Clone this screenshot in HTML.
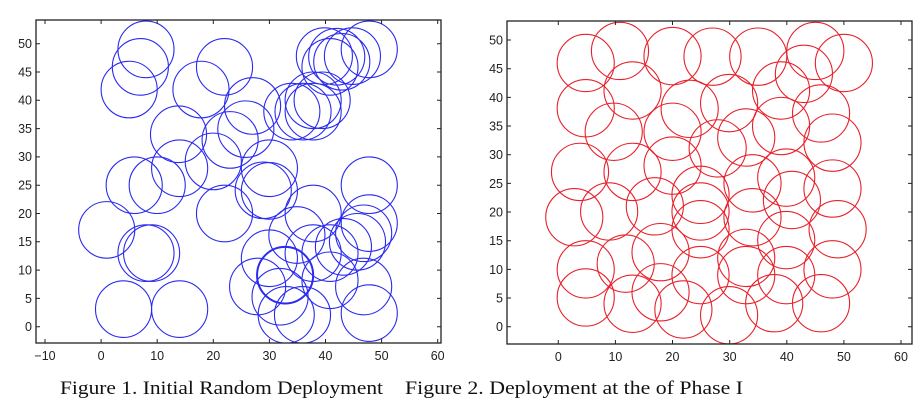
<!DOCTYPE html>
<html><head><style>
html,body{margin:0;padding:0;background:#fff;}
svg{display:block;}
.t{font-family:"Liberation Sans",sans-serif;font-size:12.5px;fill:#222;}
.cap{font-family:"Liberation Serif",serif;font-size:19px;fill:#111;}
.b circle{fill:none;stroke:#2a2af0;stroke-width:1.1;vector-effect:non-scaling-stroke;}
.r circle{fill:none;stroke:#e8202a;stroke-width:1.1;vector-effect:non-scaling-stroke;}
</style></head><body>
<svg width="923" height="416" viewBox="0 0 923 416" xmlns="http://www.w3.org/2000/svg">
<defs>
<clipPath id="c1"><rect x="36" y="20" width="405" height="323"/></clipPath>
<clipPath id="c2"><rect x="507" y="21" width="405" height="323"/></clipPath>
</defs>
<g clip-path="url(#c1)">
<g class="b" transform="translate(101.1,326.7) scale(5.61,-5.66)">
<circle cx="8" cy="49" r="5"/><circle cx="7" cy="45.9" r="5"/><circle cx="5" cy="41.9" r="5"/>
<circle cx="22" cy="45.9" r="5"/><circle cx="17.8" cy="41.9" r="5"/><circle cx="27" cy="39" r="5"/>
<circle cx="13.8" cy="34" r="5"/><circle cx="14" cy="28" r="5"/><circle cx="20" cy="29.2" r="5"/>
<circle cx="23" cy="33" r="5"/><circle cx="25.8" cy="34.9" r="5"/><circle cx="5.9" cy="25" r="5"/>
<circle cx="10" cy="25" r="5"/><circle cx="30" cy="28" r="5"/><circle cx="28.9" cy="24.1" r="5"/>
<circle cx="30" cy="24" r="5"/><circle cx="1" cy="17.1" r="5"/><circle cx="8" cy="13" r="5"/>
<circle cx="9" cy="13" r="5"/><circle cx="22" cy="20" r="5"/><circle cx="4" cy="3.1" r="5"/>
<circle cx="14" cy="3.1" r="5"/>
<circle cx="39.8" cy="47.8" r="5"/><circle cx="40.8" cy="45.9" r="5"/><circle cx="42.9" cy="46.8" r="5"/>
<circle cx="44.8" cy="47.8" r="5"/><circle cx="47.8" cy="49" r="5"/><circle cx="42" cy="47.7" r="5"/>
<circle cx="34" cy="38" r="5"/><circle cx="37.8" cy="40" r="5"/><circle cx="39.4" cy="40" r="5"/>
<circle cx="36" cy="38" r="5"/><circle cx="37.8" cy="38" r="5"/>
<circle cx="37.8" cy="20" r="5"/><circle cx="47.8" cy="25" r="5"/><circle cx="47.8" cy="18.3" r="5"/>
<circle cx="46.8" cy="16.5" r="5"/><circle cx="45.7" cy="15" r="5"/>
<circle cx="34.9" cy="16.2" r="5"/><circle cx="30" cy="12.1" r="5"/>
<circle cx="32.8" cy="9.1" r="5" style="stroke-width:2"/><circle cx="27.9" cy="7.1" r="5"/>
<circle cx="31.9" cy="5.3" r="5"/><circle cx="33" cy="2.1" r="5"/><circle cx="35.9" cy="2.1" r="5"/>
<circle cx="40.8" cy="8.2" r="5"/><circle cx="46.8" cy="7.1" r="5"/><circle cx="47.8" cy="2.4" r="5"/>
<circle cx="37.8" cy="13" r="5"/><circle cx="40.8" cy="13" r="5"/><circle cx="43.2" cy="14.1" r="5"/>
</g></g>
<g clip-path="url(#c2)">
<g class="r" transform="translate(558.3,326.7) scale(5.712,-5.733)">
<circle cx="4.8" cy="46" r="5"/><circle cx="10.8" cy="48.1" r="5"/><circle cx="20" cy="47.2" r="5"/>
<circle cx="27" cy="47.1" r="5"/><circle cx="35" cy="47.1" r="5"/><circle cx="45" cy="48.1" r="5"/>
<circle cx="50" cy="46" r="5"/><circle cx="13" cy="41.2" r="5"/><circle cx="39" cy="41.2" r="5"/>
<circle cx="43" cy="44.1" r="5"/><circle cx="4.8" cy="38.1" r="5"/><circle cx="23" cy="38" r="5"/>
<circle cx="20" cy="34" r="5"/><circle cx="29.9" cy="39" r="5"/><circle cx="39" cy="35" r="5"/>
<circle cx="46" cy="37.2" r="5"/><circle cx="9.7" cy="34" r="5"/><circle cx="27.9" cy="31.1" r="5"/>
<circle cx="32.9" cy="33" r="5"/><circle cx="48" cy="32.1" r="5"/><circle cx="3.8" cy="27" r="5"/>
<circle cx="13" cy="27" r="5"/><circle cx="20" cy="28.1" r="5"/><circle cx="39.9" cy="26" r="5"/>
<circle cx="34" cy="25" r="5"/><circle cx="48" cy="24.1" r="5"/><circle cx="24.9" cy="23" r="5"/>
<circle cx="2.8" cy="19.1" r="5"/><circle cx="8.9" cy="20.1" r="5"/><circle cx="16.9" cy="21" r="5"/>
<circle cx="24.9" cy="20.1" r="5"/><circle cx="34" cy="19.1" r="5"/><circle cx="40.9" cy="22.1" r="5"/>
<circle cx="48.9" cy="17" r="5"/><circle cx="17.9" cy="13" r="5"/><circle cx="24.9" cy="17" r="5"/>
<circle cx="39.9" cy="15.1" r="5"/><circle cx="32.9" cy="12" r="5"/><circle cx="4.8" cy="10" r="5"/>
<circle cx="11.8" cy="11" r="5"/><circle cx="48" cy="10" r="5"/><circle cx="32.9" cy="9" r="5"/>
<circle cx="39.9" cy="9" r="5"/><circle cx="24.9" cy="9" r="5"/><circle cx="4.8" cy="5.1" r="5"/>
<circle cx="13" cy="4" r="5"/><circle cx="17.9" cy="6" r="5"/><circle cx="21.9" cy="3" r="5"/>
<circle cx="29.9" cy="2" r="5"/><circle cx="37.8" cy="4.1" r="5"/><circle cx="46" cy="4.1" r="5"/>
</g></g>
<!-- left axes -->
<rect x="36" y="20" width="405" height="323" fill="none" stroke="#222" stroke-width="1.3"/>
<g stroke="#222" stroke-width="1">
<path d="M45,343v-4M45,20v4M101.1,343v-4M101.1,20v4M157.2,343v-4M157.2,20v4M213.3,343v-4M213.3,20v4M269.4,343v-4M269.4,20v4M325.5,343v-4M325.5,20v4M381.6,343v-4M381.6,20v4M437.7,343v-4M437.7,20v4"/>
<path d="M36,326.7h4M441,326.7h-4M36,298.4h4M441,298.4h-4M36,270.1h4M441,270.1h-4M36,241.8h4M441,241.8h-4M36,213.5h4M441,213.5h-4M36,185.2h4M441,185.2h-4M36,156.9h4M441,156.9h-4M36,128.6h4M441,128.6h-4M36,100.3h4M441,100.3h-4M36,72h4M441,72h-4M36,43.7h4M441,43.7h-4"/>
</g>
<g class="t" text-anchor="middle">
<text x="45" y="360">−10</text><text x="101.1" y="360">0</text><text x="157.2" y="360">10</text><text x="213.3" y="360">20</text><text x="269.4" y="360">30</text><text x="325.5" y="360">40</text><text x="381.6" y="360">50</text><text x="437.7" y="360">60</text>
</g>
<g class="t" text-anchor="end">
<text x="32" y="331">0</text><text x="32" y="303">5</text><text x="32" y="274.5">10</text><text x="32" y="246">15</text><text x="32" y="218">20</text><text x="32" y="189.5">25</text><text x="32" y="161">30</text><text x="32" y="133">35</text><text x="32" y="104.5">40</text><text x="32" y="76.5">45</text><text x="32" y="48">50</text>
</g>
<!-- right axes -->
<rect x="507" y="21" width="405" height="323" fill="none" stroke="#222" stroke-width="1.3"/>
<g stroke="#222" stroke-width="1">
<path d="M558.3,344v-4M558.3,21v4M615.4,344v-4M615.4,21v4M672.5,344v-4M672.5,21v4M729.7,344v-4M729.7,21v4M786.8,344v-4M786.8,21v4M843.9,344v-4M843.9,21v4M901,344v-4M901,21v4"/>
<path d="M507,326.7h4M912,326.7h-4M507,298h4M912,298h-4M507,269.4h4M912,269.4h-4M507,240.7h4M912,240.7h-4M507,212h4M912,212h-4M507,183.4h4M912,183.4h-4M507,154.7h4M912,154.7h-4M507,126h4M912,126h-4M507,97.4h4M912,97.4h-4M507,68.7h4M912,68.7h-4M507,40h4M912,40h-4"/>
</g>
<g class="t" text-anchor="middle">
<text x="558.3" y="361">0</text><text x="615.4" y="361">10</text><text x="672.5" y="361">20</text><text x="729.7" y="361">30</text><text x="786.8" y="361">40</text><text x="843.9" y="361">50</text><text x="901" y="361">60</text>
</g>
<g class="t" text-anchor="end">
<text x="503" y="331">0</text><text x="503" y="302.5">5</text><text x="503" y="274">10</text><text x="503" y="245">15</text><text x="503" y="216.5">20</text><text x="503" y="188">25</text><text x="503" y="159">30</text><text x="503" y="130.5">35</text><text x="503" y="102">40</text><text x="503" y="73">45</text><text x="503" y="44.5">50</text>
</g>
<text class="cap" x="60" y="394" textLength="323" lengthAdjust="spacingAndGlyphs">Figure 1. Initial Random Deployment</text>
<text class="cap" x="405" y="394" textLength="338" lengthAdjust="spacingAndGlyphs">Figure 2. Deployment at the of Phase I</text>
</svg>
</body></html>
